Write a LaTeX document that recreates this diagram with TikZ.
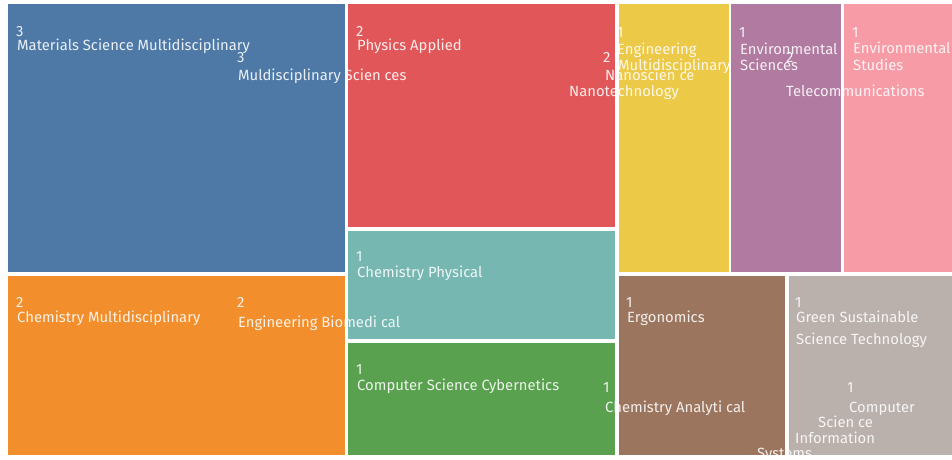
\documentclass[tikz,border=0pt]{standalone}
\usepackage{fontspec}
\setmainfont{Fira Sans}
\definecolor{cblue}{HTML}{4E79A7}
\definecolor{corange}{HTML}{F28E2B}
\definecolor{cred}{HTML}{E15759}
\definecolor{cteal}{HTML}{76B7B2}
\definecolor{cgreen}{HTML}{59A14F}
\definecolor{cyellow}{HTML}{EDC948}
\definecolor{cpurple}{HTML}{B07AA1}
\definecolor{cpink}{HTML}{F79BA6}
\definecolor{cbrown}{HTML}{9C755F}
\definecolor{cgray}{HTML}{BAB0AC}
\tikzset{
  cell/.style={fill=#1, draw=none},
  lbl/.style={anchor=base west, inner sep=0pt, text=white, text opacity=0.88, font=\fontsize{14.8}{16}\selectfont}
}
\begin{document}
\begin{tikzpicture}[x=1pt,y=-1pt]
\useasboundingbox (0,0) rectangle (952,459);
\fill[white] (0,0) rectangle (952,459);
% cells
\fill[cell=cblue]   (8,4)   rectangle (345,272);
\fill[cell=corange] (8,276) rectangle (345,455);
\fill[cell=cred]    (348,4) rectangle (615,227);
\fill[cell=cteal]   (348,231) rectangle (615,339);
\fill[cell=cgreen]  (348,343) rectangle (615,455);
\fill[cell=cyellow] (619,4) rectangle (729,272);
\fill[cell=cpurple] (731,4) rectangle (841,272);
\fill[cell=cpink]   (844,4) rectangle (952,272);
\fill[cell=cbrown]  (619,276) rectangle (785,455);
\fill[cell=cgray]   (789,276) rectangle (952,455);
% labels
\node[lbl] (n1) at (16,36) {3};
\node[lbl] (t1) at (17,50) {Materials Science Multidisciplinary};
\node[lbl] (n2) at (237,62) {3};
\node[lbl] (t2) at (238,80) {Muldisciplinary Scien ces};
\node[lbl] (n3) at (356,36) {2};
\node[lbl] (t3) at (357,50) {Physics Applied};
\node[lbl] (n4) at (603,62) {2};
\node[lbl] (t4a) at (605,80) {Nanoscien ce};
\node[lbl] (t4b) at (569,96) {Nanotechnology};
\node[lbl] (n5) at (617,37) {1};
\node[lbl] (t5a) at (617,54) {Engineering};
\node[lbl] (t5b) at (618,70) {Multidisciplinary};
\node[lbl] (n6) at (739,37) {1};
\node[lbl] (t6a) at (740,54) {Environmental};
\node[lbl] (t6b) at (740,70) {Sciences};
\node[lbl] (n7) at (786,62) {2};
\node[lbl] (t7) at (786,96) {Telecommunications};
\node[lbl] (n8) at (852,37) {1};
\node[lbl] (t8a) at (853,53) {Environmental};
\node[lbl] (t8b) at (853,70) {Studies};
\node[lbl] (n9) at (16,307) {2};
\node[lbl] (t9) at (17,322) {Chemistry Multidisciplinary};
\node[lbl] (n10) at (237,307) {2};
\node[lbl] (t10) at (238,327) {Engineering Biomedi cal};
\node[lbl] (n11) at (356,261) {1};
\node[lbl] (t11) at (357,277) {Chemistry Physical};
\node[lbl] (n12) at (356,374) {1};
\node[lbl] (t12) at (357,390) {Computer Science Cybernetics};
\node[lbl] (n13) at (603,392) {1};
\node[lbl] (t13) at (605,412) {Chemistry Analyti cal};
\node[lbl] (n14) at (626,307) {1};
\node[lbl] (t14) at (627,322) {Ergonomics};
\node[lbl] (n15) at (795,307) {1};
\node[lbl] (t15a) at (796,322) {Green Sustainable};
\node[lbl] (t15b) at (796,344) {Science Technology};
\node[lbl] (n16) at (847,392) {1};
\node[lbl] (t16a) at (849,412) {Computer};
\node[lbl] (t16b) at (818,427) {Scien ce};
\node[lbl] (t16c) at (795,443) {Information};
\node[lbl] (t16d) at (757,458) {Systems};
\end{tikzpicture}
\end{document}
